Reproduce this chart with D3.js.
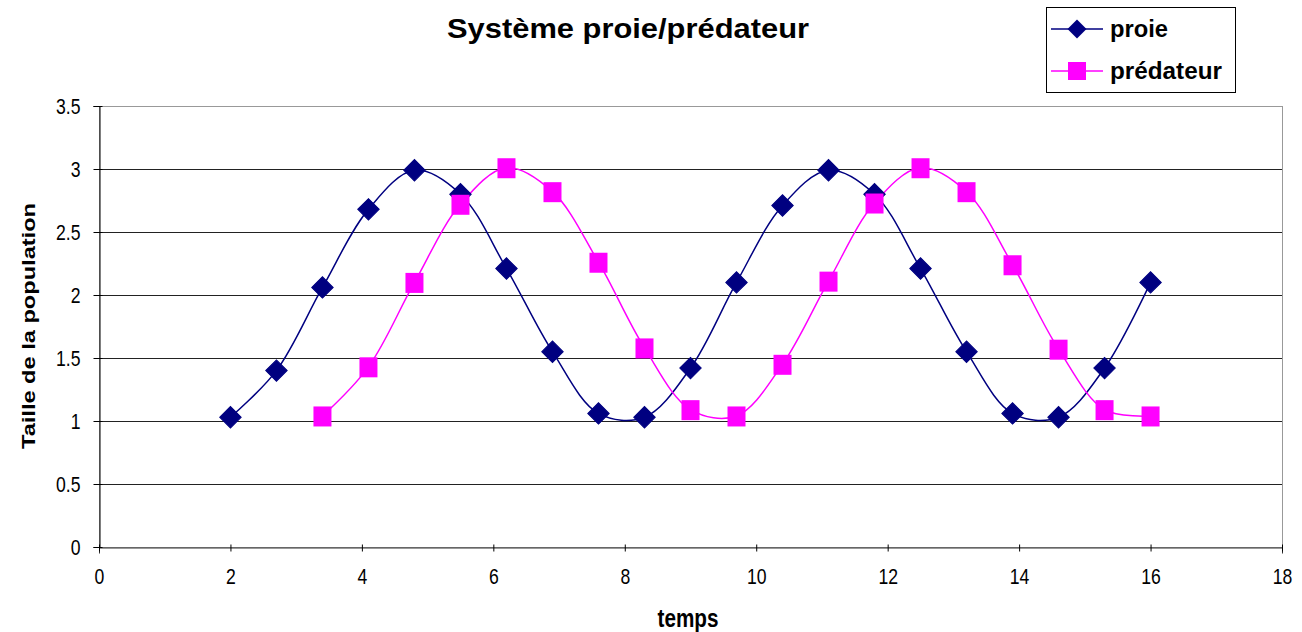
<!DOCTYPE html>
<html>
<head>
<meta charset="utf-8">
<script src="https://cdn.jsdelivr.net/npm/d3@7"></script>
<style>
  html, body { margin: 0; padding: 0; background: #fff; }
  svg { display: block; font-family: "Liberation Sans", Arial, sans-serif; }
</style>
</head>
<body>
<svg id="chart" width="1302" height="632"></svg>
<script>
const titleText = "Système proie/prédateur";
const xLabel = "temps";
const yLabel = "Taille de la population";
const seriesNames = ["proie", "prédateur"];

const proieT = [2.0, 2.7, 3.4, 4.1, 4.8, 5.5, 6.2, 6.9, 7.6, 8.3, 9.0, 9.7, 10.4, 11.1, 11.8, 12.5, 13.2, 13.9, 14.6, 15.3, 16.0];
const proieV = [1.03, 1.40, 2.06, 2.68, 2.99, 2.80, 2.21, 1.55, 1.06, 1.03, 1.42, 2.10, 2.71, 2.99, 2.80, 2.21, 1.55, 1.06, 1.03, 1.42, 2.10];

const predT = [3.4, 4.1, 4.8, 5.5, 6.2, 6.9, 7.6, 8.3, 9.0, 9.7, 10.4, 11.1, 11.8, 12.5, 13.2, 13.9, 14.6, 15.3, 16.0];
const predV = [1.04, 1.43, 2.10, 2.72, 3.01, 2.82, 2.26, 1.58, 1.09, 1.04, 1.45, 2.11, 2.73, 3.01, 2.82, 2.24, 1.57, 1.09, 1.04];

const xTicks = [0, 2, 4, 6, 8, 10, 12, 14, 16, 18];
const yTicks = [0, 0.5, 1, 1.5, 2, 2.5, 3, 3.5];

const colors = ["#000080", "#FF00FF"];

(function () {
const svg = d3.select("#chart");
const pL = 99, pR = 1282, pT = 106, pB = 547;
const sx = 0.8; // horizontal squeeze of tick labels (tall, narrow glyphs)

const x = d3.scaleLinear().domain([0, 18]).range([pL, pR]);
const y = d3.scaleLinear().domain([0, 3.5]).range([pB, pT]);

// plot border (gray)
svg.append("rect")
  .attr("x", pL + 0.5).attr("y", pT + 0.5)
  .attr("width", pR - pL).attr("height", pB - pT)
  .attr("fill", "none").attr("stroke", "#999").attr("stroke-width", 1);

// gridlines
svg.append("g").selectAll("line")
  .data(yTicks.filter(d => d > 0 && d < 3.5))
  .join("line")
  .attr("x1", pL).attr("x2", pR)
  .attr("y1", d => y(d) + 0.5).attr("y2", d => y(d) + 0.5)
  .attr("stroke", "#222").attr("stroke-width", 1);

// axes
const xAxis = d3.axisBottom(x).tickValues(xTicks).tickFormat(d3.format("d")).tickSizeOuter(0).tickSize(6).tickPadding(15);
const gx = svg.append("g").attr("transform", `translate(0,${pB + 0.5})`).call(xAxis);
gx.select(".domain").attr("stroke", "#333");
gx.selectAll(".tick line").attr("stroke", "#000").attr("y1", -3).attr("y2", 4);
gx.selectAll("text").attr("font-size", 22).attr("fill", "#000")
  .attr("font-family", "'Liberation Sans', Arial, sans-serif")
  .attr("transform", `scale(${sx},1)`);

const yPad = 13;
const yAxis = d3.axisLeft(y).tickValues(yTicks).tickFormat(d => String(d)).tickSizeOuter(0).tickSize(6).tickPadding(yPad);
const gy = svg.append("g").attr("transform", `translate(${pL + 0.5},0)`).call(yAxis);
gy.select(".domain").attr("stroke", "#000");
gy.selectAll(".tick line").attr("stroke", "#000").attr("x2", 3).attr("x1", -6);
gy.selectAll("text").attr("font-size", 22).attr("fill", "#000")
  .attr("font-family", "'Liberation Sans', Arial, sans-serif")
  .attr("x", -(6 + yPad) / sx)
  .attr("transform", `scale(${sx},1)`);

// lines
const line = d3.line().x(d => x(d[0])).y(d => y(d[1])).curve(d3.curveCatmullRom.alpha(0.5));
const proieData = proieT.map((t, i) => [t, proieV[i]]);
const predData = predT.map((t, i) => [t, predV[i]]);

svg.append("path").datum(proieData).attr("d", line)
  .attr("fill", "none").attr("stroke", colors[0]).attr("stroke-width", 1.5);
svg.append("path").datum(predData).attr("d", line)
  .attr("fill", "none").attr("stroke", colors[1]).attr("stroke-width", 1.5);

// markers
svg.append("g").selectAll("path").data(proieData).join("path")
  .attr("transform", d => `translate(${x(d[0])},${y(d[1])}) rotate(45)`)
  .attr("d", d3.symbol().type(d3.symbolSquare).size(230))
  .attr("fill", colors[0]).attr("stroke", colors[0]).attr("stroke-width", 1);

svg.append("g").selectAll("rect").data(predData).join("rect")
  .attr("x", d => x(d[0]) - 9).attr("y", d => y(d[1]) - 9.5)
  .attr("width", 18).attr("height", 20)
  .attr("fill", colors[1]);

// title
svg.append("text").attr("x", 628).attr("y", 38).attr("text-anchor", "middle")
  .attr("font-size", 28).attr("font-weight", "bold")
  .attr("textLength", 362).attr("lengthAdjust", "spacingAndGlyphs").text(titleText);

// axis titles
svg.append("text").attr("x", 688).attr("y", 627).attr("text-anchor", "middle")
  .attr("font-size", 25).attr("font-weight", "bold")
  .attr("textLength", 61).attr("lengthAdjust", "spacingAndGlyphs").text(xLabel);
svg.append("text").attr("transform", "translate(35,326) rotate(-90)").attr("text-anchor", "middle")
  .attr("font-size", 19).attr("font-weight", "bold")
  .attr("textLength", 246).attr("lengthAdjust", "spacingAndGlyphs").text(yLabel);

// legend
const lg = svg.append("g");
lg.append("rect").attr("x", 1046.5).attr("y", 7.5).attr("width", 189).attr("height", 85)
  .attr("fill", "#fff").attr("stroke", "#000").attr("stroke-width", 1);
const legendY = [29, 71];
const legendW = [58, 112];
seriesNames.forEach((name, i) => {
  lg.append("line").attr("x1", 1051).attr("x2", 1103).attr("y1", legendY[i]).attr("y2", legendY[i])
    .attr("stroke", colors[i]).attr("stroke-width", 1.5);
  if (i === 0) {
    lg.append("path").attr("transform", `translate(1077,${legendY[i]}) rotate(45)`)
      .attr("d", d3.symbol().type(d3.symbolSquare).size(180)).attr("fill", colors[i]);
  } else {
    lg.append("rect").attr("x", 1068).attr("y", legendY[i] - 9).attr("width", 18).attr("height", 18)
      .attr("fill", colors[i]);
  }
  lg.append("text").attr("x", 1110).attr("y", legendY[i] + 8).attr("font-size", 23)
    .attr("font-weight", "bold")
    .attr("textLength", legendW[i]).attr("lengthAdjust", "spacingAndGlyphs").text(name);
});
})();
</script>
</body>
</html>
